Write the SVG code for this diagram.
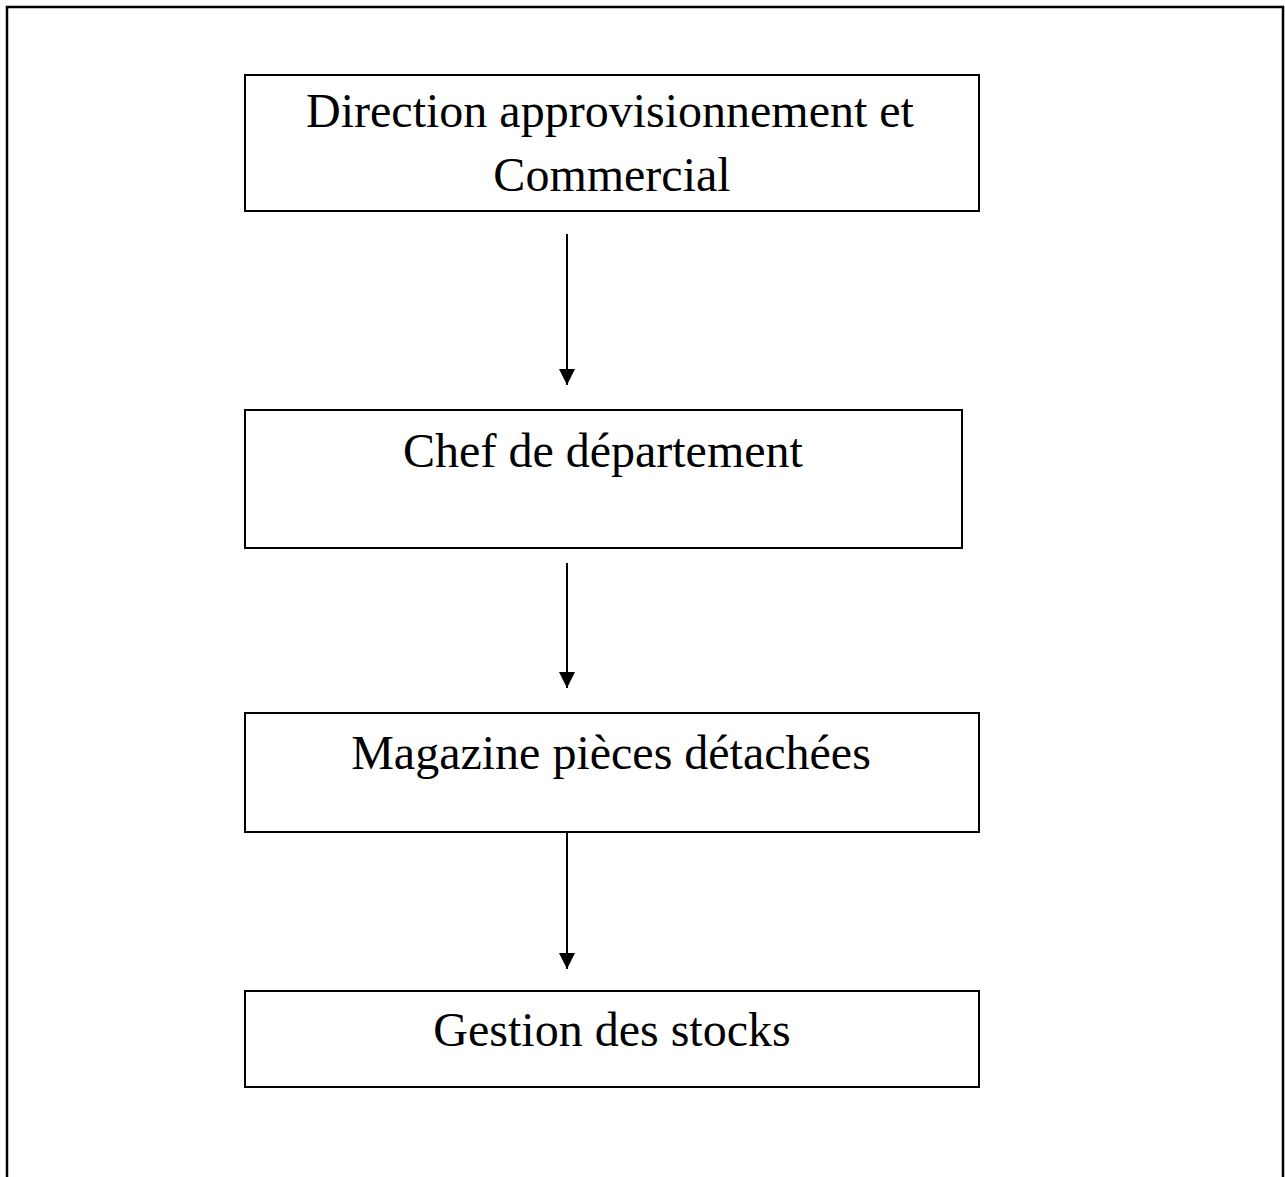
<svg xmlns="http://www.w3.org/2000/svg" width="1285" height="1177" viewBox="0 0 1285 1177">
<style>
.box{fill:#fff;stroke:#000;stroke-width:2}
.t{font-family:"Liberation Serif","Times New Roman",serif;font-size:48px;fill:#000;text-anchor:middle}
.c{stroke:#000;stroke-width:2;fill:none}
</style>
<defs>
<marker id="ah" markerWidth="8" markerHeight="8" refX="8" refY="4" orient="auto" markerUnits="strokeWidth">
<path d="M0,0 L8,4 L0,8 Z" fill="#000"/>
</marker>
</defs>
<rect width="1285" height="1177" fill="#fff"/>
<path d="M7,1177 V7 H1283 V1177" fill="none" stroke="#000" stroke-width="2.5"/>
<g id="n1"><rect class="box" x="245" y="75" width="734" height="136"/>
<text class="t" x="610" y="127">Direction approvisionnement et</text>
<text class="t" x="612" y="191">Commercial</text></g>
<g id="n2"><rect class="box" x="245" y="410" width="717" height="138"/>
<text class="t" x="603" y="467">Chef de département</text></g>
<g id="n3"><rect class="box" x="245" y="713" width="734" height="119"/>
<text class="t" x="611" y="769">Magazine pièces détachées</text></g>
<g id="n4"><rect class="box" x="245" y="991" width="734" height="96"/>
<text class="t" x="612" y="1046">Gestion des stocks</text></g>
<g id="connectors">
<line class="c" x1="567" y1="234" x2="567" y2="385" marker-end="url(#ah)"/>
<line class="c" x1="567" y1="563" x2="567" y2="688" marker-end="url(#ah)"/>
<line class="c" x1="567" y1="832" x2="567" y2="969" marker-end="url(#ah)"/>
</g>
</svg>
